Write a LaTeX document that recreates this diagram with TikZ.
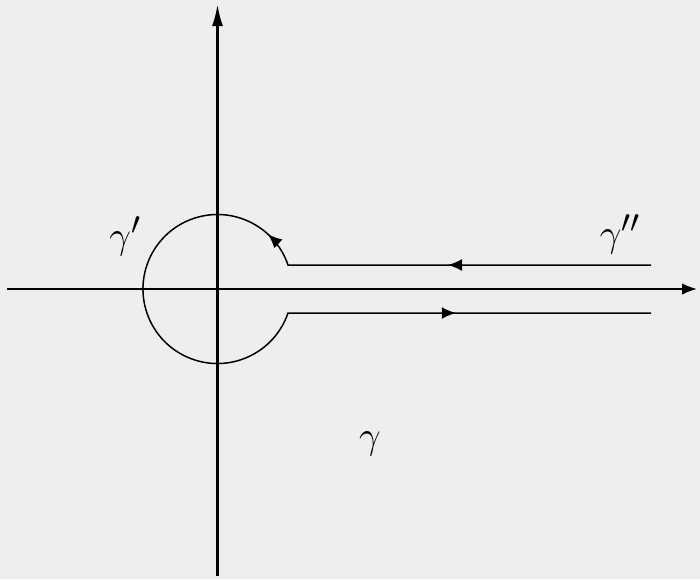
\documentclass[tikz,border=0pt]{standalone}
\usetikzlibrary{arrows.meta,decorations.markings}
\definecolor{paper}{RGB}{238,238,238}
\newcommand{\biglbl}[1]{\scalebox{1.55}{\Huge $#1$}}
\begin{document}
\begin{tikzpicture}[x=1pt,y=-1pt,
  axis/.style={draw=black},
  contour/.style={draw=black,line width=1.5pt},
  lbl/.style={inner sep=0pt}]
\fill[paper] (0,0) rectangle (700,579);
\useasboundingbox (0,0) rectangle (700,579);
\coordinate (O) at (217.5,289);
\coordinate (hl) at (7,289);
\coordinate (hr) at (697,289);
\coordinate (vb) at (217.5,576);
\coordinate (vt) at (217.5,4);
\coordinate (us) at (651,265);
\coordinate (uj) at (288,265);
\coordinate (le) at (651,313);
\draw[axis,line width=1.8pt,-{Latex[length=15pt,width=11.5pt]}] (hl) -- (hr);
\draw[axis,line width=2.6pt,-{Latex[length=22pt,width=11pt]}] (vb) -- (vt);
\draw[contour,postaction={decorate},decoration={markings,
   mark=at position 203pt with {\arrow{Latex[length=14pt,width=12pt]}},
   mark=at position 400pt with {\arrow{Latex[length=14pt,width=12pt]}},
   mark=at position 950pt with {\arrow{Latex[length=14pt,width=12pt]}}}]
  (us) -- (uj) arc[start angle=-18.8,end angle=-341.2,radius=74.5] -- (le);
\node[lbl] (g1) at (125,236) {\biglbl{\gamma'}};
\node[lbl] (g2) at (620,234) {\biglbl{\gamma''}};
\node[lbl] (g3) at (370,444) {\biglbl{\gamma}};
\end{tikzpicture}
\end{document}
